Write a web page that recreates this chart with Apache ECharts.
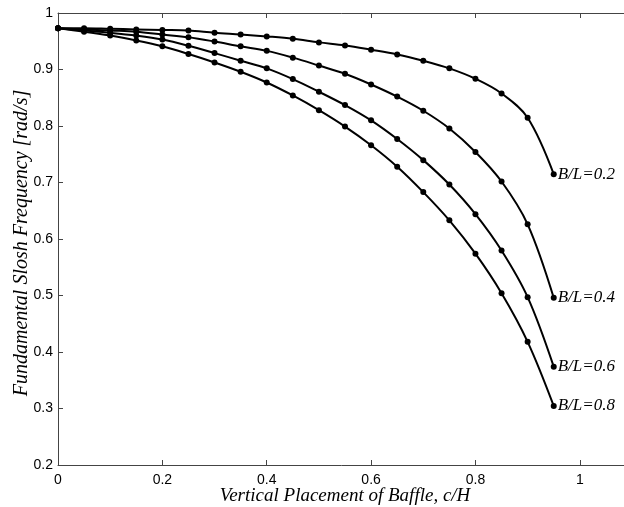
<!DOCTYPE html>
<html>
<head>
<meta charset="utf-8">
<script src="https://cdn.jsdelivr.net/npm/echarts@6/dist/echarts.min.js"></script>
<style>
html,body{margin:0;padding:0;background:#fff;}
#chart{width:624px;height:507px;}
</style>
</head>
<body>
<div id="chart"></div>
<script>
const xValues = [0,0.05,0.1,0.15,0.2,0.25,0.3,0.35,0.4,0.45,0.5,0.55,0.6,0.65,0.7,0.75,0.8,0.85,0.9,0.95];
const bl02 = [0.973,0.973,0.972,0.971,0.970,0.969,0.965,0.962,0.9586,0.9545,0.948,0.9426,0.935,0.9267,0.9155,0.902,0.8836,0.8576,0.8146,0.7148];
const bl04 = [0.973,0.971,0.969,0.967,0.962,0.957,0.9495,0.941,0.933,0.921,0.907,0.8925,0.8735,0.852,0.827,0.7956,0.754,0.7017,0.626,0.496];
const bl06 = [0.973,0.969,0.965,0.960,0.953,0.942,0.929,0.9155,0.902,0.883,0.8606,0.837,0.81,0.777,0.7396,0.6964,0.644,0.5795,0.497,0.374];
const bl08 = [0.973,0.967,0.960,0.9515,0.941,0.9274,0.9125,0.896,0.877,0.854,0.828,0.799,0.766,0.728,0.683,0.633,0.574,0.504,0.418,0.3045];
const seriesNames = ['B/L=0.2','B/L=0.4','B/L=0.6','B/L=0.8'];
const seriesValues = [bl02, bl04, bl06, bl08];
const xTitle = 'Vertical Placement of Baffle, c/H';
const yTitle = 'Fundamental Slosh Frequency [rad/s]';

const chart = echarts.init(document.getElementById('chart'));
const serif = '"Liberation Serif","DejaVu Serif",serif';
const sans = '"Liberation Sans",Arial,sans-serif';
const axisColor = '#444';

const series = seriesValues.map((vals, i) => ({
  type: 'line',
  name: seriesNames[i],
  data: xValues.map((x, j) => [x, vals[j]]),
  smooth: 0.35,
  symbol: 'circle',
  symbolSize: 6,
  itemStyle: { color: '#000' },
  lineStyle: { color: '#000', width: 2 },
  endLabel: {
    show: true,
    formatter: seriesNames[i],
    fontFamily: serif,
    fontStyle: 'italic',
    fontSize: 17,
    color: '#000',
    distance: 4
  },
  animation: false
}));

chart.setOption({
  animation: false,
  grid: { left: 58, top: 13, right: -8, bottom: 42, outerBoundsMode: 'none', containLabel: false },
  graphic: [{
    type: 'text',
    x: 22, y: 243,
    rotation: Math.PI / 2,
    style: {
      text: yTitle,
      fontFamily: serif, fontStyle: 'italic', fontSize: 20, fill: '#000',
      align: 'center', verticalAlign: 'middle'
    }
  }, {
    type: 'text',
    x: 345, y: 496,
    style: {
      text: xTitle,
      fontFamily: serif, fontStyle: 'italic', fontSize: 19, fill: '#000',
      align: 'center', verticalAlign: 'middle'
    }
  }],
  xAxis: [{
    type: 'value', min: 0, max: 1.1, interval: 0.2,
    axisLine: { lineStyle: { color: axisColor, width: 1 } },
    axisTick: { inside: true, length: 5, lineStyle: { color: axisColor } },
    splitLine: { show: false },
    axisLabel: { color: '#000', fontFamily: sans, fontSize: 14, margin: 8, showMaxLabel: false }
  }, {
    type: 'value', min: 0, max: 1.1, interval: 0.2, position: 'top',
    axisLine: { show: true, lineStyle: { color: axisColor, width: 1 } },
    axisTick: { show: true, inside: true, length: 5, lineStyle: { color: axisColor } },
    axisLabel: { show: false },
    splitLine: { show: false }
  }],
  yAxis: {
    type: 'value', min: 0.2, max: 1, interval: 0.1,
    axisLine: { show: true, lineStyle: { color: axisColor, width: 1 } },
    axisTick: { show: true, inside: true, length: 5, lineStyle: { color: axisColor } },
    splitLine: { show: false },
    axisLabel: { color: '#000', fontFamily: sans, fontSize: 14, margin: 5,
      formatter: v => String(Math.round(v * 10) / 10) }
  },
  series: series
});
</script>
</body>
</html>
